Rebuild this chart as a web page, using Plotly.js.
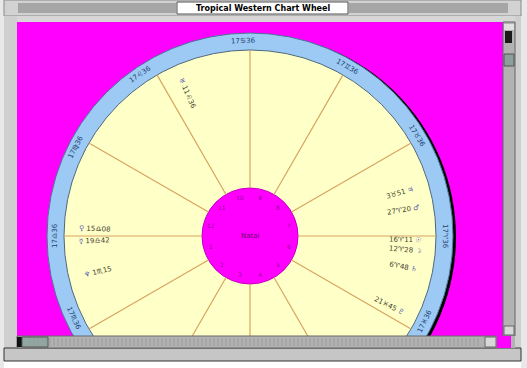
<!DOCTYPE html>
<html><head><meta charset="utf-8">
<script src="https://cdn.plot.ly/plotly-3.0.1.min.js"></script>
<style>html,body{margin:0;padding:0;background:#fff;overflow:hidden}#chart{width:527px;height:368px}</style>
</head><body><div id="chart"></div>
<script>
// ---- data ----
const windowTitle = 'Tropical Western Chart Wheel';
const centerLabel = 'Natal';
const cuspAngles = [0, 30, 60, 90, 120, 150, 180, 210, 240, 270, 300, 330];
const cuspSigns = ['♈','♉','♊','♋','♌','♍','♎','♏','♐','♑','♒','♓'];
const cuspDegrees = [17,17,17,17,17,17,17,17,17,17,17,17];
const cuspMinutes = ['36','36','36','36','36','36','36','36','36','36','36','36'];
const ringLabelAngles = [0, 31, 60, 92, 124, 153, 180, 205, 240, 270, 300, 334];
const houseNumbers = [1,2,3,4,5,6,7,8,9,10,11,12];
const houseAngles = [195,225,255,285,315,345,15,45,75,105,135,165];
const planetGlyphs = ['♅','♀','☿','♆','♃','♂','☉','☽','♄','♇'];
const planetAngles = [114, 177.5, 182, 193.5, 16, 9.5, -1.4, -5, -11.6, -26.6];
const planetDegrees = [11, 15, 19, 1, 3, 27, 16, 12, 6, 21];
const planetSigns = ['♌','♎','♎','♏','♉','♈','♈','♈','♈','♓'];
const planetMinutes = ['36','08','42','15','51','20','11','28','48','45'];

// ---- geometry / style ----
const cx = 250, cy = 236, R_OUT = 203, R_IN = 186, R_CORE = 48, R_RING = 195, R_PLANET = 156, R_HOUSE = 40;
const FONT = 'DejaVu Sans';
function pol(r, deg){ const a = deg*Math.PI/180; return [cx + r*Math.cos(a), cy - r*Math.sin(a)]; }
function circ(r, dx, dy, fill, line, lw, layer){
  return {type:'circle', xref:'x', yref:'y', x0:cx+dx-r, x1:cx+dx+r, y0:cy+dy-r, y1:cy+dy+r,
          fillcolor:fill, line:{color:line, width:lw}, layer:layer||'below'};
}
function rect(x0,y0,x1,y1,fill,line,lw,layer){
  return {type:'rect', xref:'x', yref:'y', x0, y0, x1, y1, fillcolor:fill,
          line:{color:line||fill, width:lw===undefined?0:lw}, layer:layer||'above'};
}
function hline(y,x0,x1,color){
  return {type:'line', xref:'x', yref:'y', x0, x1, y0:y, y1:y, line:{color, width:1}, layer:'above'};
}

// cusp lines
const lx = [], ly = [];
cuspAngles.forEach(a => { const p = pol(R_CORE, a), q = pol(R_IN, a); lx.push(p[0], q[0], null); ly.push(p[1], q[1], null); });
const traces = [{type:'scatter', mode:'lines', x:lx, y:ly, line:{color:'#d8a460', width:1.2}, hoverinfo:'skip'}];

const shapes = [
  rect(17,22,503,336,'#ff00ff',null,0,'below'),
  circ(R_OUT, 3, 1, '#000000', '#000000', 0),
  circ(R_OUT, 0, 0, '#9ccaf4', '#4f6f99', 1),
  circ(R_IN, 0, 0, '#ffffc8', '#4d6680', 1),
  circ(R_CORE, 0, 0, '#ff00ff', '#c000c0', 1)
];
// window chrome
shapes.push(
  rect(0,361,527,368,'#ffffff'),
  rect(0,0,4,368,'#e8e8e8'),
  rect(521,0,527,368,'#e8e8e8'),
  rect(4,0,521,16,'#d2d2d2','#8a8a8a',1),
  rect(4,16,17,361,'#cfcfcf'),
  rect(515,16,521,361,'#cfcfcf'),
  rect(17,16,515,22,'#d6d6d6'),
  rect(4,348,521,361,'#c6c6c6','#333333',1),
  rect(503,22,515,336,'#b2b2b2','#666666',1),
  rect(504,24,514,30,'#e0e0e0'),
  rect(505,31,512,43,'#1a1a1a'),
  rect(504,54,514,66,'#8d9f9a','#555555',1),
  rect(504,326,514,335,'#d8d8d8','#666666',1),
  rect(17,336,497,348,'#b2b2b2','#666666',1),
  rect(17,337,22,347,'#111111'),
  rect(22,337,48,347,'#8fa8a2','#555555',1),
  rect(485,337,496,347,'#d8d8d8','#666666',1),
  rect(497,336,511,348,'#ff00ff'),
  rect(511,336,515,348,'#b2b2b2')
);
for (let y = 4; y <= 12; y += 2) { shapes.push(hline(y, 18, 176, '#7a7a7a')); shapes.push(hline(y, 349, 508, '#7a7a7a')); }
for (let x = 30; x < 480; x += 4) shapes.push({type:'line', xref:'x', yref:'y', x0:x, x1:x, y0:338, y1:346, line:{color:'#9a9a9a', width:1}, layer:'above'});
shapes.push(rect(177,2,348,14,'#ffffff','#555555',1));

const annotations = [];
annotations.push({x:262.5, y:8.5, xref:'x', yref:'y', text:'<b>'+windowTitle+'</b>', showarrow:false,
  font:{family:FONT, size:8, color:'#000000'}, xanchor:'center', yanchor:'middle'});
annotations.push({x:cx, y:cy, xref:'x', yref:'y', text:centerLabel, showarrow:false,
  font:{family:FONT, size:7, color:'#6a006a'}});
// ring labels
ringLabelAngles.forEach((a, i) => {
  const p = pol(R_RING, a);
  const na = ((a % 360) + 360) % 360;
  const ang = (na > 180) ? 270 - na : 90 - na;
  annotations.push({x:p[0], y:p[1], xref:'x', yref:'y', showarrow:false, textangle:ang,
    text: cuspDegrees[i] + cuspSigns[i] + cuspMinutes[i], font:{family:FONT, size:7, color:'#24406c'}});
});
// house numbers
houseNumbers.forEach((n, i) => {
  const p = pol(R_HOUSE, houseAngles[i]);
  annotations.push({x:p[0], y:p[1], xref:'x', yref:'y', showarrow:false, text:String(n),
    font:{family:FONT, size:6, color:'#a000a0'}});
});
// planets
planetGlyphs.forEach((g, i) => {
  const a = planetAngles[i];
  const p = pol(R_PLANET, a);
  const na = ((a % 360) + 360) % 360;
  const left = na > 90 && na < 270;
  const glyph = '<span style="color:#5b5ba8">' + g + '</span>';
  const body = planetDegrees[i] + planetSigns[i] + planetMinutes[i];
  annotations.push({x:p[0], y:p[1], xref:'x', yref:'y', showarrow:false,
    textangle: left ? 180 - a : -a,
    text: left ? glyph + ' ' + body : body + ' ' + glyph,
    font:{family:FONT, size:7, color:'#44442f'}});
});

const layout = {
  width:527, height:368, margin:{l:0,r:0,t:0,b:0,pad:0}, showlegend:false,
  paper_bgcolor:'#cfcfcf', plot_bgcolor:'#cfcfcf',
  xaxis:{range:[0,527], visible:false, fixedrange:true},
  yaxis:{range:[368,0], visible:false, fixedrange:true},
  shapes, annotations
};
Plotly.newPlot('chart', traces, layout, {staticPlot:true, displayModeBar:false});
</script></body></html>
